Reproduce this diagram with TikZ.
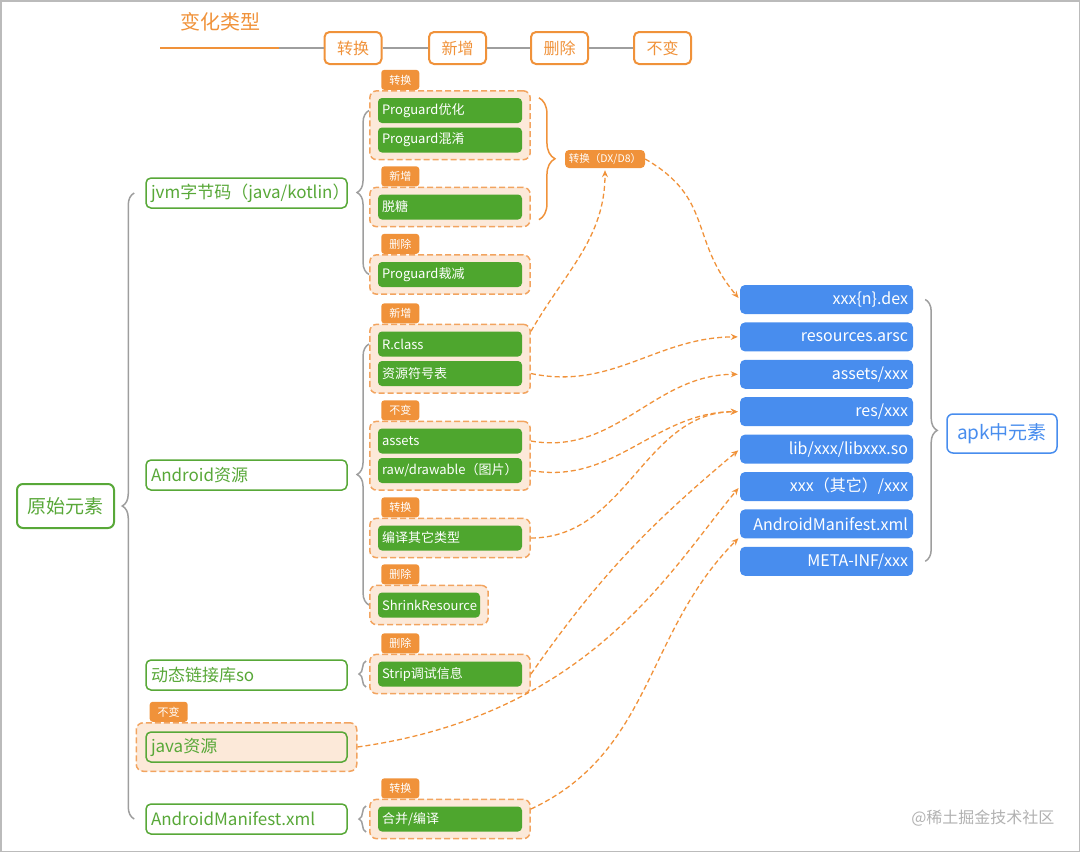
\documentclass[tikz,border=0pt]{standalone}
\usepackage{fontspec}
\setmainfont{Noto Sans CJK SC}
\usetikzlibrary{arrows.meta,fit,backgrounds,decorations.pathreplacing}
\definecolor{mmGreen}{RGB}{88,168,56}
\definecolor{mmLeaf}{RGB}{78,166,46}
\definecolor{mmOrange}{RGB}{240,146,58}
\definecolor{mmDash}{RGB}{242,164,96}
\definecolor{mmPeach}{RGB}{252,233,217}
\definecolor{mmBlue}{RGB}{72,141,238}
\definecolor{mmGray}{RGB}{158,158,158}

\begin{document}
\begin{tikzpicture}[
            x=1pt, y=-1pt,
            font=\fontsize{13}{15}\selectfont,
            rootbox/.style={draw=mmGreen, line width=2pt, rounded corners=6pt, fill=white, text=mmGreen,
              minimum width=97pt, minimum height=44pt, inner sep=0pt, font=\fontsize{19}{21}\selectfont},
            topic/.style={draw=mmGreen, line width=1.5pt, rounded corners=5pt, fill=white, text=mmGreen,
              text width=191pt, inner xsep=5pt, minimum height=30pt, align=left, font=\fontsize{17}{19}\selectfont},
            leaf/.style={fill=mmLeaf, rounded corners=4pt, text=white, text width=136pt, inner xsep=4pt,
              minimum height=25pt, align=left},
            grp/.style={draw=mmDash, fill=mmPeach, line width=1.5pt, dash pattern=on 6pt off 3pt,
              rounded corners=7pt, inner xsep=8pt, inner ysep=7pt},
            tag/.style={fill=mmOrange, text=white, rounded corners=3pt, minimum width=38pt, minimum height=20pt,
              inner sep=0pt, font=\fontsize{11}{12}\selectfont},
            key/.style={draw=mmOrange, line width=2pt, fill=white, rounded corners=5pt, text=mmOrange,
              minimum width=57pt, minimum height=32pt, inner sep=0pt, font=\fontsize{16}{18}\selectfont},
            apkitem/.style={fill=mmBlue, rounded corners=5pt, text=white, text width=163pt, inner xsep=5pt,
              minimum height=29pt, align=right, font=\fontsize{16}{18}\selectfont},
            gbrace/.style={draw=mmGray, line width=1.5pt, decorate, decoration={brace, amplitude=12pt}},
            conn/.style={draw=mmOrange, line width=1.3pt, dash pattern=on 5pt off 3pt,
              -{Stealth[length=7pt, width=6pt]}, shorten >=2pt},
          ]
          \useasboundingbox (0,0) rectangle (1080,852);
          \draw[mmGray!70, line width=1.5pt] (0.75,0.75) rectangle (1079.25,851.25);

          \node[text=mmOrange, font=\fontsize{20}{22}\selectfont] (legTitle) at (220,22) {变化类型};
          \coordinate (legStart) at (160,48);
          \coordinate (legMid) at (279,48);
          \node[key] (keyConv) at (353,48) {转换};
          \node[key] (keyNew) at (457.5,48) {新增};
          \node[key] (keyDel) at (559.5,48) {删除};
          \node[key] (keyKeep) at (662.5,48) {不变};
          \draw[mmOrange, line width=2pt] (legStart) -- (legMid);
          \draw[mmGray, line width=2pt] (legMid) -- (keyConv) (keyConv) -- (keyNew)
            (keyNew) -- (keyDel) (keyDel) -- (keyKeep);

          \node[rootbox] (root) at (65.5,506) {原始元素};
          \node[topic] (tJvm) at (246.5,193) {jvm字节码（java/kotlin）};
          \node[topic] (tRes) at (246.5,475) {Android资源};
          \node[topic] (tSo) at (246.5,675) {动态链接库so};
          \node[topic, fill=mmPeach] (tJava) at (246.5,747) {java资源};
          \node[topic] (tMan) at (246.5,819) {AndroidManifest.xml};

          \node[leaf] (proOpt) at (450,110.5) {Proguard优化};
          \node[leaf] (proObf) at (450,140) {Proguard混淆};
          \node[leaf] (desugar) at (450,207) {脱糖};
          \node[leaf] (proCut) at (450,274.5) {Proguard裁减};
          \node[leaf] (rclass) at (450,344) {R.class};
          \node[leaf] (sym) at (450,373.5) {资源符号表};
          \node[leaf] (assets) at (450,441) {assets};
          \node[leaf] (raw) at (450,470.5) {raw/drawable（图片）};
          \node[leaf] (comp) at (450,538) {编译其它类型};
          \node[leaf, text width=94pt] (shrink) at (429,605) {ShrinkResource};
          \node[leaf] (strip) at (450,674) {Strip调试信息};
          \node[leaf] (merge) at (450,819) {合并/编译};

          \begin{scope}[on background layer]
            \node[grp, fit=(proOpt)(proObf)] (gConv1) {};
            \node[grp, fit=(desugar)] (gNew1) {};
            \node[grp, fit=(proCut)] (gDel1) {};
            \node[grp, fit=(rclass)(sym)] (gNew2) {};
            \node[grp, fit=(assets)(raw)] (gKeep) {};
            \node[grp, fit=(comp)] (gConv2) {};
            \node[grp, fit=(shrink)] (gDel2) {};
            \node[grp, fit=(strip)] (gDelSo) {};
            \node[grp, fit=(merge)] (gConvMan) {};
            \node[grp, inner xsep=9pt, inner ysep=8.5pt, fit=(tJava)] (gJava) {};
          \end{scope}

          \node[tag, anchor=south west] (tagConv1) at ([xshift=12pt]gConv1.north west) {转换};
          \node[tag, anchor=south west] (tagNew1) at ([xshift=12pt]gNew1.north west) {新增};
          \node[tag, anchor=south west] (tagDel1) at ([xshift=12pt]gDel1.north west) {删除};
          \node[tag, anchor=south west] (tagNew2) at ([xshift=12pt]gNew2.north west) {新增};
          \node[tag, anchor=south west] (tagKeep) at ([xshift=12pt]gKeep.north west) {不变};
          \node[tag, anchor=south west] (tagConv2) at ([xshift=12pt]gConv2.north west) {转换};
          \node[tag, anchor=south west] (tagDel2) at ([xshift=12pt]gDel2.north west) {删除};
          \node[tag, anchor=south west] (tagDelSo) at ([xshift=12pt]gDelSo.north west) {删除};
          \node[tag, anchor=south west] (tagConvMan) at ([xshift=12pt]gConvMan.north west) {转换};
          \node[tag, anchor=south west] (tagJava) at ([xshift=14pt]gJava.north west) {不变};

          \node[fill=mmOrange, text=white, rounded corners=4pt, minimum width=80pt, minimum height=18pt,
            inner sep=0pt, font=\fontsize{10.5}{12}\selectfont] (dxd8) at (605,159) {转换（DX/D8）};

          \node[apkitem] (dex) at (826.5,299.5) {xxx\{n\}.dex};
          \node[apkitem] (arsc) at (826.5,336.9) {resources.arsc};
          \node[apkitem] (assetsX) at (826.5,374.3) {assets/xxx};
          \node[apkitem] (resX) at (826.5,411.7) {res/xxx};
          \node[apkitem] (libX) at (826.5,449.1) {lib/xxx/libxxx.so};
          \node[apkitem] (otherX) at (826.5,486.5) {xxx（其它）/xxx};
          \node[apkitem] (apkMan) at (826.5,523.9) {AndroidManifest.xml};
          \node[apkitem] (meta) at (826.5,561.3) {META-INF/xxx};
          \node[draw=mmBlue, line width=1.5pt, rounded corners=6pt, fill=white, text=mmBlue, minimum width=110pt,
            minimum height=39pt, inner sep=0pt, font=\fontsize{19}{21}\selectfont] (apk) at (1002,433.5) {apk中元素};

          \draw[gbrace] ([xshift=-11pt]tMan.west) -- ([xshift=-11pt]tJvm.west);
          \draw[gbrace] (gConv1.west |- proCut) -- (gConv1.west |- proOpt);
          \draw[gbrace] (gNew2.west |- shrink) -- (gNew2.west |- rclass);
          \draw[gbrace, decoration={amplitude=7pt}] ([xshift=-3pt, yshift=-13pt]gDelSo.west)
            -- ([xshift=-3pt, yshift=13pt]gDelSo.west);
          \draw[gbrace, decoration={amplitude=7pt}] ([xshift=-3pt, yshift=-13pt]gConvMan.west)
            -- ([xshift=-3pt, yshift=13pt]gConvMan.west);
          \draw[gbrace, draw=mmOrange, decoration={amplitude=16pt}] ([xshift=8pt]gConv1.east |- proOpt.north)
            -- ([xshift=8pt]gConv1.east |- desugar.south);
          \draw[gbrace] ([xshift=12pt]dex.east) -- ([xshift=12pt]meta.east);

          \node[anchor=east, text=mmGray!80, font=\fontsize{16}{18}\selectfont] (mark) at (1058,818) {@稀土掘金技术社区};

          \draw[conn] (dxd8.east) to[out=-30, in=130, looseness=1.2] (dex.west);
          \draw[conn] (gNew2.east |- rclass.north) to[out=60, in=-90] (dxd8.south);
          \draw[conn] (gNew2.east |- sym) to[out=-12, in=180] (arsc.west);
          \draw[conn] (gKeep.east |- assets) to[out=-10, in=180] (assetsX.west);
          \draw[conn] (gKeep.east |- raw) to[out=-10, in=180] (resX.west);
          \draw[conn] (gConv2.east) to[out=0, in=180] (resX.west);
          \draw[conn] (gDelSo.east) to[out=55, in=-140] (libX.west);
          \draw[conn] (gJava.east) to[out=8, in=-130, out looseness=1.3, in looseness=0.6] (otherX.west);
          \draw[conn] ([yshift=10pt]gConvMan.east) to[out=25, in=-135] ([yshift=-13pt]apkMan.west);
\end{tikzpicture}
\end{document}
